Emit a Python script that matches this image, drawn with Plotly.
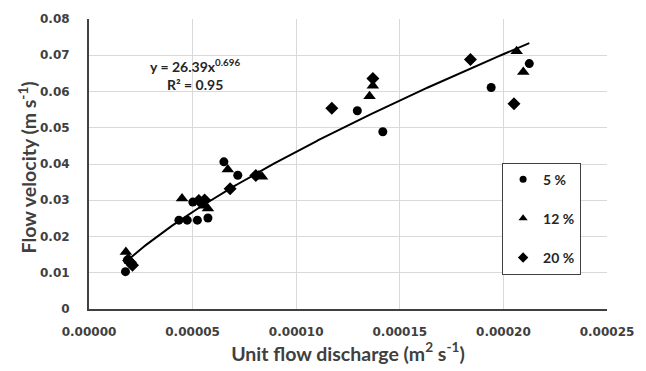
import numpy as np
import plotly.graph_objects as go

# ---- data ----
q_5 = [1.76e-5, 1.85e-5, 4.34e-5, 4.74e-5, 5.01e-5, 5.23e-5, 5.74e-5, 6.51e-5, 7.18e-5,
       1.295e-4, 1.418e-4, 1.941e-4, 2.125e-4]
v_5 = [0.0103, 0.0135, 0.0245, 0.0245, 0.0295, 0.0245, 0.0251, 0.0406, 0.0369,
       0.0547, 0.0489, 0.0611, 0.0677]

q_12 = [1.78e-5, 1.9e-5, 4.49e-5, 5.55e-5, 5.74e-5, 6.70e-5, 8.20e-5, 8.35e-5,
        1.354e-4, 1.370e-4, 2.064e-4, 2.096e-4]
v_12 = [0.0157, 0.0140, 0.0305, 0.0285, 0.0277, 0.0385, 0.0368, 0.0365,
        0.0587, 0.0616, 0.0711, 0.0654]

q_20 = [2.0e-5, 2.1e-5, 5.30e-5, 5.58e-5, 6.81e-5, 8.05e-5,
        1.172e-4, 1.370e-4, 1.841e-4, 2.051e-4]
v_20 = [0.0128, 0.0121, 0.0299, 0.0301, 0.0332, 0.0368,
        0.0554, 0.0636, 0.0688, 0.0566]

series_names = ["5 %", "12 %", "20 %"]

# power trendline shown on chart: y = a * x^b
fit_a = 26.39
fit_b = 0.696
fit_r2 = 0.95

x_ticks = [0, 0.00005, 0.0001, 0.00015, 0.0002, 0.00025]
x_tick_labels = ["0.00000", "0.00005", "0.00010", "0.00015", "0.00020", "0.00025"]
y_ticks = [0, 0.01, 0.02, 0.03, 0.04, 0.05, 0.06, 0.07, 0.08]
y_tick_labels = ["0", "0.01", "0.02", "0.03", "0.04", "0.05", "0.06", "0.07", "0.08"]

all_q = q_5 + q_12 + q_20
q_fit = np.linspace(min(all_q), max(all_q), 200)
v_fit = fit_a * q_fit ** fit_b

FONT = "Lato"
TICKFONT = "DejaVu Sans"
TXT = "#404040"

fig = go.Figure()
fig.add_trace(go.Scatter(x=q_fit, y=v_fit, mode="lines",
                         line=dict(color="black", width=2), showlegend=False,
                         hoverinfo="skip"))

symbols = ["circle", "triangle-up", "diamond"]
sizes = [9, 11, 10]
legend_sizes = [7, 8, 8]
for name, xs, ys, sym, sz, lsz, grp in zip(series_names, [q_5, q_12, q_20],
                                            [v_5, v_12, v_20], symbols, sizes,
                                            legend_sizes, ["a", "b", "c"]):
    fig.add_trace(go.Scatter(x=xs, y=ys, mode="markers", name=name, legendgroup=grp,
                             showlegend=False,
                             marker=dict(symbol=sym, size=sz, color="black")))
    # legend entry with the smaller symbol used in the reference legend
    fig.add_trace(go.Scatter(x=[None], y=[None], mode="markers", name=name,
                             legendgroup=grp, showlegend=True,
                             marker=dict(symbol=sym, size=lsz, color="black")))

fig.update_layout(
    width=646, height=371,
    margin=dict(l=89, r=37, t=15, b=61),
    paper_bgcolor="white", plot_bgcolor="white",
    font=dict(family=FONT, color=TXT),
    legend=dict(x=0.95, xanchor="right", y=0.505, yanchor="top",
                bgcolor="white", bordercolor="#404040", borderwidth=1,
                font=dict(family=FONT, size=14, color="#262626", weight="bold"),
                tracegroupgap=18, itemwidth=30),
    xaxis=dict(range=[0, 0.00025], tickvals=x_ticks, ticktext=x_tick_labels,
               showgrid=True, gridcolor="#d9d9d9", gridwidth=1,
               showline=True, linecolor="#404040", linewidth=2,
               ticks="", ticklabelstandoff=11, zeroline=False,
               tickfont=dict(family=TICKFONT, size=12, color=TXT, weight="bold"),
               title=dict(text="Unit flow discharge (m<sup>2</sup> s<sup>-1</sup>)",
                          font=dict(family=FONT, size=19.5, color=TXT, weight="bold"),
                          standoff=6)),
    yaxis=dict(range=[0, 0.08], tickvals=y_ticks, ticktext=y_tick_labels,
               showgrid=True, gridcolor="#d9d9d9", gridwidth=1,
               showline=True, linecolor="#404040", linewidth=2,
               ticks="", ticklabelstandoff=15, zeroline=False,
               tickfont=dict(family=TICKFONT, size=12, color=TXT, weight="bold")),
)

# y-axis title placed as a rotated annotation for exact positioning
fig.add_annotation(x=-62 / 520, y=0.489, xref="paper", yref="paper",
                   xanchor="center", yanchor="middle", showarrow=False,
                   textangle=-90, text="Flow velocity (m s<sup>-1</sup>)",
                   font=dict(family=FONT, size=19.5, color=TXT, weight="bold"))

fig.add_annotation(x=5.12e-5, y=0.0671, xref="x", yref="y", showarrow=False,
                   text=f"y = {fit_a}x<sup>{fit_b}</sup>",
                   font=dict(family=FONT, size=14, color="#262626", weight="bold"))
fig.add_annotation(x=5.12e-5, y=0.0619, xref="x", yref="y", showarrow=False,
                   text=f"R² = {fit_r2}",
                   font=dict(family=FONT, size=14, color="#262626", weight="bold"))

fig.write_html("out.html")
